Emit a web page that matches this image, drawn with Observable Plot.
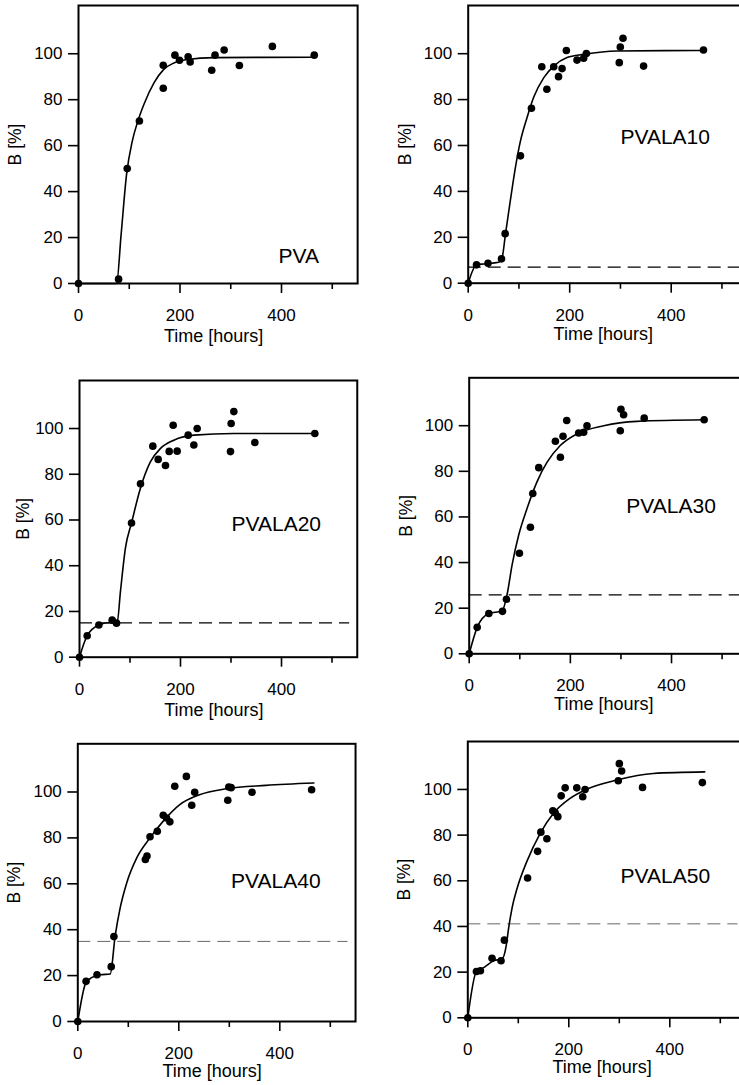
<!DOCTYPE html>
<html><head><meta charset="utf-8">
<script src="https://cdn.jsdelivr.net/npm/d3@7"></script>
<script src="https://cdn.jsdelivr.net/npm/@observablehq/plot@0.6"></script>
<style>
html,body{margin:0;padding:0;background:#fff;overflow:hidden;}
#root{position:relative;width:739px;height:1085px;overflow:hidden;background:#fff;}
#root svg{position:absolute;overflow:visible;}
</style></head><body><div id="root"></div>
<script>
// ---------- data ----------
const panelNames = ["PVA", "PVALA10", "PVALA20", "PVALA30", "PVALA40", "PVALA50"];
const xTickLabels = [0, 200, 400];
const xMinorTicks = [100, 300, 500];
const yTickLabels = [0, 20, 40, 60, 80, 100];
const xTitle = "Time [hours]";
const yTitle = "B [%]";
const plateau = [null, 7, 15, 25.8, 34.9, 41.2];

const pvaT = [0, 79, 96, 120, 167, 167, 190, 199, 216, 220, 262.5, 269, 287, 317, 382, 464.5];
const pvaB = [0, 1.9, 50, 70.7, 85, 95, 99.4, 97.2, 98.7, 96.4, 92.8, 99.4, 101.6, 94.9, 103.2, 99.4];
const pvaFitT = [0, 75, 84, 94.7, 106, 116, 129, 149, 168, 188, 214.5, 267, 464.5];
const pvaFitB = [0, 0, 21.4, 47.5, 62, 70, 78, 87.4, 93.2, 96, 97.5, 98.3, 98.5];

const la10T = [0, 16.4, 39, 65.6, 72.8, 103, 124.6, 145, 155, 168.5, 178, 185, 193.4, 214.4, 227.5, 232.8, 297.7, 299.7, 305, 345.6, 463.6];
const la10B = [0, 8.0, 8.7, 10.6, 21.6, 55.5, 76.2, 94.3, 84.5, 94.3, 90, 93.5, 101.4, 97.2, 98, 100.1, 96.1, 102.9, 106.7, 94.6, 101.6];
const la10FitT = [0, 16.4, 30.8, 60, 67, 73.4, 83, 93, 103, 116, 129, 149, 168.5, 194.8, 227.5, 293, 463.6];
const la10FitB = [0, 8, 8.4, 9.1, 11.3, 21.4, 36, 50.4, 62, 72.2, 81, 89.6, 94.6, 98.3, 99.7, 101.2, 101.4];

const la20T = [0, 15.2, 38.3, 64.7, 73.3, 103, 120.8, 145.2, 155.8, 170.3, 177.6, 185.5, 193.4, 215.2, 226.4, 233, 299, 300.3, 305.6, 347.2, 466];
const la20B = [0, 9.4, 14.1, 16.2, 14.9, 58.7, 75.8, 92.3, 86.5, 83.8, 90, 101.4, 90.1, 97.1, 92.8, 100, 89.9, 102.2, 107.4, 93.9, 97.8];
const la20FitT = [0, 15.2, 38.3, 61.4, 74.6, 81.2, 91, 103, 120.8, 140.6, 160.4, 186.8, 226.4, 305.6, 466];
const la20FitB = [0, 9.4, 14.1, 15.2, 15.2, 29, 47.8, 58.7, 74, 85.5, 91.3, 94.9, 97.1, 97.8, 97.8];

const la30T = [0, 15.8, 38.8, 65.8, 73.7, 99.3, 121, 125.7, 137.5, 170.4, 180.3, 185.5, 192.8, 216.4, 226.3, 232.9, 298.7, 300, 305.3, 346, 464.5];
const la30B = [0, 11.6, 17.7, 18.6, 23.9, 44.1, 55.5, 70.3, 81.6, 93.2, 86.2, 95.4, 102.3, 96.8, 97.1, 100, 97.8, 107.2, 104.8, 103.3, 102.6];
const la30FitT = [0, 15.8, 38.8, 65, 75, 84.9, 98, 114.5, 134, 154, 180, 213, 266, 331.6, 464.5];
const la30FitB = [0, 11.6, 17.7, 18.8, 26.1, 39.1, 52.2, 63.8, 75.4, 84, 91.3, 96.4, 100, 101.9, 102.6];

const la40T = [0, 16.4, 38, 66.2, 71.5, 133.8, 137, 143, 157.4, 169.2, 175.7, 182.3, 192, 215, 225.6, 231.5, 297, 299, 303.6, 345, 463];
const la40B = [0, 17.5, 20.4, 23.9, 37, 70.6, 72.1, 80.5, 82.9, 89.9, 88.7, 87, 102.5, 106.8, 94.2, 99.9, 96.4, 102.2, 101.9, 99.9, 101];
const la40FitT = [0, 16.4, 28.2, 44.6, 64.3, 74, 84, 97, 116.7, 143, 169.2, 202, 241, 293.8, 372.5, 467.5];
const la40FitB = [0, 17.1, 19.2, 20.4, 20.7, 37.3, 49.6, 60.5, 71.3, 80, 87.3, 94.5, 98.8, 101.4, 102.9, 103.9];

const la50T = [0, 17.1, 25, 48, 65.8, 72.4, 118.4, 138.2, 144.7, 156.6, 168.4, 173, 178.3, 184.9, 192.8, 215.8, 227.6, 232.2, 298, 300, 304.6, 346, 464.5];
const la50B = [0, 20.3, 20.6, 26.1, 25, 34, 61.2, 72.9, 81.3, 78.4, 90.7, 89.8, 88.1, 97.2, 100.7, 100.7, 96.8, 100, 103.8, 111.3, 108.1, 100.9, 103];
const la50FitT = [0, 17.1, 31.6, 51.3, 67.8, 76, 81, 88, 97.4, 117, 143.4, 169.7, 202.6, 235.5, 294.7, 367, 469];
const la50FitB = [0, 20.3, 22, 25, 25.7, 31.5, 39.5, 48.5, 56.5, 68.5, 80.8, 89.6, 96.1, 100.1, 104.1, 107, 107.7];

const pointT = [pvaT, la10T, la20T, la30T, la40T, la50T];
const pointB = [pvaB, la10B, la20B, la30B, la40B, la50B];
const fitT = [pvaFitT, la10FitT, la20FitT, la30FitT, la40FitT, la50FitT];
const fitB = [pvaFitB, la10FitB, la20FitB, la30FitB, la40FitB, la50FitB];

// ---------- layout (page pixels) ----------
const layout = [
  {L: 78,    T: 5,     B: 283,    sx: 0,   sy: 0,   sw: 370, sh: 350, ppx: 0.5075, yOff: 63, xDy: 46,   nameX: 394, nameY: 15.2, dashColor: "#000", dashW: 1.3},
  {L: 467.7, T: 5,     B: 282.7,  sx: 370, sy: 0,   sw: 390, sh: 350, ppx: 0.5075, yOff: 63, xDy: 44,   nameX: 300, nameY: 67.1, dashColor: "#000", dashW: 1.3},
  {L: 79,    T: 380,   B: 656.7,  sx: 0,   sy: 350, sw: 370, sh: 365, ppx: 0.505,  yOff: 56, xDy: 46,   nameX: 301, nameY: 61.6, dashColor: "#000", dashW: 1.3},
  {L: 468.7, T: 377.3, B: 653.3,  sx: 370, sy: 350, sw: 390, sh: 365, ppx: 0.5058, yOff: 63, xDy: 43,   nameX: 310.6, nameY: 68.1, dashColor: "#000", dashW: 1.3},
  {L: 77.3,  T: 743.3, B: 1021,   sx: 0,   sy: 715, sw: 370, sh: 370, ppx: 0.505,  yOff: 63, xDy: 42.5, nameX: 303.6, nameY: 64.8, dashColor: "#666", dashW: 1.0},
  {L: 467.3, T: 741,   B: 1017.3, sx: 370, sy: 715, sw: 390, sh: 370, ppx: 0.505,  yOff: 63, xDy: 42.5, nameX: 302.6, nameY: 65.6, dashColor: "#999", dashW: 1.5}
];
const xDomain = [0, 550];
const yDomain = [0, 121];
const font = "'Liberation Sans', Arial, Helvetica, sans-serif";

const root = document.getElementById("root");
panelNames.forEach((name, i) => {
  const g = layout[i];
  const R = g.L + (xDomain[1] - xDomain[0]) * g.ppx;
  const pts = pointT[i].map((t, j) => ({t, b: pointB[i][j]}));
  const fit = fitT[i].map((t, j) => ({t, b: fitB[i][j]}));
  const marks = [];
  if (plateau[i] != null) {
    marks.push(Plot.ruleY([plateau[i]], {x1: 0, x2: 535, stroke: g.dashColor, strokeWidth: g.dashW, strokeDasharray: "13,7"}));
  }
  marks.push(
    Plot.line(fit, {x: "t", y: "b", stroke: "black", strokeWidth: 1.6, curve: "monotone-x"}),
    Plot.dot(pts, {x: "t", y: "b", r: 3.8, fill: "black", stroke: "none"}),
    Plot.frame({stroke: "black", strokeWidth: 2}),
    Plot.axisY({ticks: yTickLabels, tickSize: 10, tickPadding: 6, strokeWidth: 1.6, fontSize: 17, label: null}),
    Plot.axisX({ticks: xTickLabels, tickSize: 10, tickPadding: 15.5, strokeWidth: 1.6, fontSize: 17, label: null}),
    Plot.axisX({ticks: xMinorTicks, tickSize: 6, strokeWidth: 1.6, tickFormat: () => "", label: null}),
    Plot.text([name], {x: () => g.nameX, y: () => g.nameY, text: d => d, textAnchor: "start", lineAnchor: "top", fontSize: 21, fill: "black"}),
    Plot.text([xTitle], {frameAnchor: "bottom", text: d => d, dx: -4.5, dy: g.xDy, lineAnchor: "top", fontSize: 18, fill: "black"}),
    Plot.text([yTitle], {frameAnchor: "left", text: d => d, rotate: -90, dx: -g.yOff, lineAnchor: "middle", textAnchor: "middle", fontSize: 17.5, fill: "black"})
  );
  const svg = Plot.plot({
    width: g.sw,
    height: g.sh,
    marginLeft: g.L - g.sx,
    marginRight: g.sw - (R - g.sx),
    marginTop: g.T - g.sy,
    marginBottom: g.sh - (g.B - g.sy),
    x: {domain: xDomain},
    y: {domain: yDomain},
    style: {fontFamily: font, fontSize: "17px", color: "black", background: "transparent", overflow: "visible"},
    marks
  });
  svg.style.left = g.sx + "px";
  svg.style.top = g.sy + "px";
  root.appendChild(svg);
});
</script>
</body></html>
